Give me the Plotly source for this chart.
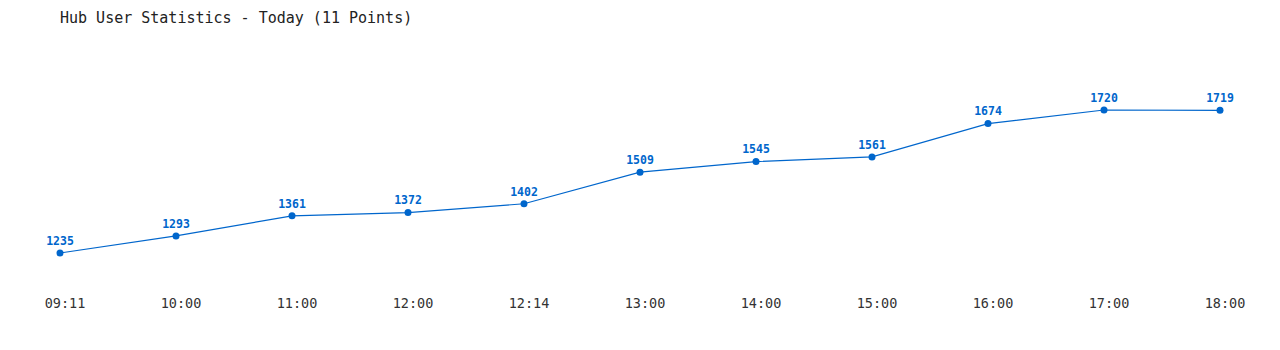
import plotly.graph_objects as go

times = ["09:11", "10:00", "11:00", "12:00", "12:14", "13:00", "14:00", "15:00", "16:00", "17:00", "18:00"]
users = [1235, 1293, 1361, 1372, 1402, 1509, 1545, 1561, 1674, 1720, 1719]

color = "#0066cc"
mono = "DejaVu Sans Mono, Liberation Mono, monospace"

fig = go.Figure(go.Scatter(
    x=list(range(len(times))), y=users,
    mode="lines+markers+text",
    line=dict(color=color, width=1.2),
    marker=dict(color=color, size=7),
    text=[str(v) for v in users],
    textposition="top center",
    textfont=dict(family=mono, size=11.5, color=color, weight="bold"),
    cliponaxis=False,
    hoverinfo="skip",
))

fig.update_layout(
    width=1280, height=350,
    margin=dict(l=60, r=60, t=40, b=60),
    paper_bgcolor="white", plot_bgcolor="white",
    showlegend=False,
    title=dict(text="Hub User Statistics - Today (11 Points)", x=0, xref="paper",
               xanchor="left", y=0.948, yanchor="middle",
               font=dict(family=mono, size=15, color="#222")),
    xaxis=dict(range=[0, 10], tickvals=list(range(len(times))), ticktext=times,
               showgrid=False, zeroline=False, showline=False, ticks="",
               ticklabelstandoff=3, ticklabelshift=5,
               tickfont=dict(family=mono, size=13.5, color="#333")),
    yaxis=dict(range=[1109.5, 1957.4], visible=False, showgrid=False, zeroline=False),
)

fig.write_html("out.html")
